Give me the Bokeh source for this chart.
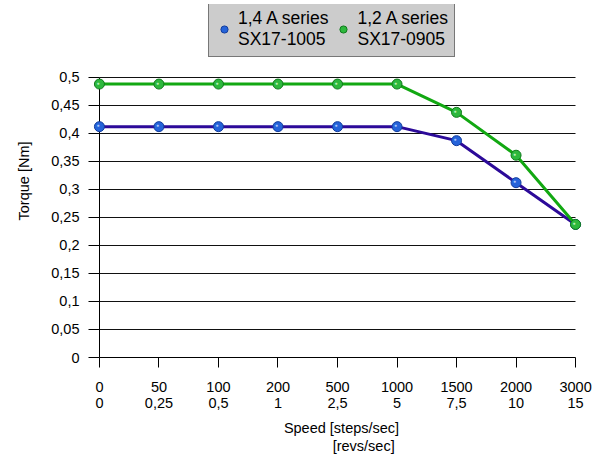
from bokeh.plotting import figure
from bokeh.models import Range1d, FixedTicker, Legend, LegendItem
from bokeh.embed import file_html
from bokeh.resources import INLINE

# ---- data ----
steps_labels = ["0", "50", "100", "200", "500", "1000", "1500", "2000", "3000"]
revs_labels = ["0", "0,25", "0,5", "1", "2,5", "5", "7,5", "10", "15"]
torque_14A = [0.412, 0.412, 0.412, 0.412, 0.412, 0.412, 0.387, 0.312, 0.2375]
torque_12A = [0.488, 0.488, 0.488, 0.488, 0.488, 0.488, 0.4375, 0.361, 0.2375]
series_14A = "1,4 A series\nSX17-1005"
series_12A = "1,2 A series\nSX17-0905"
y_ticks = [0, 0.05, 0.1, 0.15, 0.2, 0.25, 0.3, 0.35, 0.4, 0.45, 0.5]
y_tick_labels = ["0", "0,05", "0,1", "0,15", "0,2", "0,25", "0,3", "0,35", "0,4", "0,45", "0,5"]

x_pos = list(range(len(steps_labels)))
x_last = len(steps_labels) - 1
y_max = y_ticks[-1]
FONT = "Liberation Sans"

p = figure(frame_width=494, frame_height=353,
           min_border_left=90, min_border_right=8, min_border_top=4, min_border_bottom=93,
           x_range=Range1d(-0.15, 8.15), y_range=Range1d(0, 0.63),
           output_backend="svg", toolbar_location=None)
p.outline_line_color = None
p.background_fill_color = "white"
p.border_fill_color = "white"

# horizontal grid lines between x = 0 and the last category
p.ygrid.ticker = FixedTicker(ticks=y_ticks)
p.ygrid.grid_line_color = "#111111"
p.ygrid.grid_line_width = 1
p.ygrid.cross_bounds = (0, x_last)
# vertical axis line through x = 0 (as a single grid line)
p.xgrid.ticker = FixedTicker(ticks=[0])
p.xgrid.grid_line_color = "black"
p.xgrid.grid_line_width = 1
p.xgrid.cross_bounds = (0, y_max)

# y axis (at frame left; ticks reach in to x = 0)
ya = p.yaxis[0]
ya.ticker = FixedTicker(ticks=y_ticks)
ya.major_label_overrides = {t: l for t, l in zip(y_ticks, y_tick_labels)}
ya.minor_tick_line_color = None
ya.major_tick_out = 2
ya.major_tick_in = 9
ya.axis_line_color = None
ya.major_tick_line_color = "black"
ya.major_label_standoff = 9
ya.major_label_text_font = FONT
ya.major_label_text_font_size = "14.5px"
ya.major_label_text_color = "black"
ya.axis_label = "Torque [Nm]"
ya.axis_label_text_font = FONT
ya.axis_label_text_font_size = "14.5px"
ya.axis_label_text_font_style = "normal"
ya.axis_label_text_color = "black"
ya.axis_label_standoff = 16

# x axis
xa = p.xaxis[0]
xa.bounds = (0, x_last)
xa.ticker = FixedTicker(ticks=x_pos)
xa.major_label_overrides = {i: f"{s}\n{r}" for i, (s, r) in enumerate(zip(steps_labels, revs_labels))}
xa.minor_tick_line_color = None
xa.major_tick_out = 10
xa.major_tick_in = 0
xa.axis_line_color = "black"
xa.major_tick_line_color = "black"
xa.major_label_standoff = 11
xa.major_label_text_font = FONT
xa.major_label_text_font_size = "14.5px"
xa.major_label_text_color = "black"
xa.major_label_text_line_height = 1.0
xa.axis_label = "\u00a0\u00a0Speed [steps/sec]\n" + "\u00a0" * 13 + "[revs/sec]"
xa.axis_label_text_font = FONT
xa.axis_label_text_font_size = "14.5px"
xa.axis_label_text_font_style = "normal"
xa.axis_label_text_color = "black"
xa.axis_label_text_line_height = 1.15
xa.axis_label_standoff = 6

# series
l1 = p.line(x_pos, torque_14A, line_color="#2c0a99", line_width=3)
m1 = p.scatter(x_pos, torque_14A, size=10, fill_color="#2563d9", line_color="#123c9c", line_width=1)
p.text(x_pos, torque_14A, text=["●"] * len(x_pos), x_offset=-1.5, y_offset=-1.5,
       text_font_size="5px", text_color="#a8c8ff", text_align="center", text_baseline="middle")
l2 = p.line(x_pos, torque_12A, line_color="#12a812", line_width=3)
m2 = p.scatter(x_pos, torque_12A, size=10, fill_color="#2db83d", line_color="#0f7a1c", line_width=1)
p.text(x_pos, torque_12A, text=["●"] * len(x_pos), x_offset=-1.5, y_offset=-1.5,
       text_font_size="5px", text_color="#b4f0b4", text_align="center", text_baseline="middle")

legend = Legend(items=[LegendItem(label=series_14A, renderers=[m1]),
                       LegendItem(label=series_12A, renderers=[m2])],
                orientation="horizontal", location=(118, 300))
legend.background_fill_color = "#cccccc"
legend.background_fill_alpha = 1
legend.border_line_color = "#222222"
legend.border_line_width = 1.5
legend.label_text_font = FONT
legend.label_text_font_size = "17.5px"
legend.label_text_color = "black"
legend.glyph_width = 18
legend.glyph_height = 22
legend.label_standoff = 5
legend.spacing = 6
legend.padding = 6
legend.margin = 0
p.add_layout(legend, "center")

open("out.html", "w").write(file_html(p, INLINE))
